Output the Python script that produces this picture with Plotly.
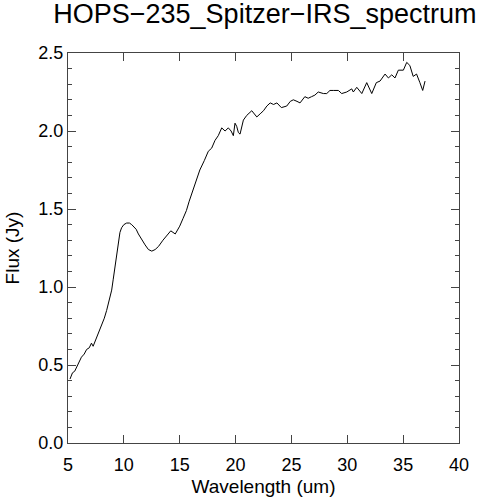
import plotly.graph_objects as go

# Spectrum points
wavelength = [
    5.18, 5.4, 5.6, 5.78, 6.0, 6.2, 6.45, 6.67, 6.9, 7.1, 7.25, 7.42, 7.6, 7.8,
    8.02, 8.25, 8.46, 8.7, 8.91, 9.05, 9.2, 9.35, 9.5, 9.65, 9.8, 10.0, 10.25,
    10.5, 10.7, 10.95, 11.1, 11.3, 11.6, 11.9, 12.2, 12.5, 12.8, 13.1, 13.5,
    13.84, 14.2, 14.6, 15.0, 15.3, 15.6, 15.85, 16.07, 16.4, 16.8, 17.2, 17.56,
    17.86, 18.16, 18.45, 18.76, 19.06, 19.35, 19.6, 19.8, 19.95, 20.1, 20.25,
    20.4, 20.7, 21.0, 21.45, 21.9, 22.2, 22.5, 22.8, 23.1, 23.4, 23.7, 24.1,
    24.58, 24.9, 25.17, 25.5, 25.77, 26.2, 26.5, 26.8, 27.1, 27.4, 27.86, 28.16,
    28.45, 28.75, 29.2, 29.5, 29.95, 30.4, 30.54, 30.85, 31.3, 31.74, 32.19,
    32.6, 32.93, 33.38, 33.68, 33.98, 34.27, 34.57, 35.02, 35.32, 35.6, 35.9,
    36.2, 36.5, 36.75, 36.96,
]
flux = [
    0.41, 0.45, 0.46, 0.49, 0.52, 0.55, 0.57, 0.60, 0.61, 0.64, 0.62, 0.65, 0.68,
    0.71, 0.75, 0.80, 0.85, 0.91, 0.98, 1.05, 1.13, 1.22, 1.30, 1.35, 1.38, 1.40,
    1.41, 1.41, 1.40, 1.38, 1.37, 1.34, 1.30, 1.27, 1.24, 1.23, 1.24, 1.26, 1.30,
    1.33, 1.36, 1.34, 1.39, 1.44, 1.49, 1.55, 1.60, 1.67, 1.75, 1.81, 1.87,
    1.89, 1.94, 1.97, 2.02, 2.00, 2.02, 2.00, 1.97, 2.05, 2.03, 1.99,
    1.98, 2.07, 2.10, 2.13, 2.09, 2.11, 2.13, 2.16, 2.18, 2.17, 2.18, 2.15,
    2.16, 2.19, 2.20, 2.19, 2.18, 2.22, 2.21, 2.22, 2.23, 2.25, 2.24, 2.24,
    2.26, 2.26, 2.26, 2.24, 2.25, 2.27, 2.25, 2.28, 2.24, 2.31, 2.24,
    2.31, 2.32, 2.365, 2.34, 2.36, 2.34, 2.39, 2.39, 2.44, 2.42, 2.35,
    2.365, 2.31, 2.26, 2.32,
]

x_ticks = [5, 10, 15, 20, 25, 30, 35, 40]
y_ticks = [0.0, 0.5, 1.0, 1.5, 2.0, 2.5]
y_labels = ["0.0", "0.5", "1.0", "1.5", "2.0", "2.5"]

fig = go.Figure()
fig.add_trace(go.Scatter(
    x=wavelength,
    y=flux,
    mode='lines',
    line=dict(color='black', width=1),
    showlegend=False
))

font_name = 'Liberation Sans, Arial, sans-serif'
tick_font = dict(family=font_name, size=18, color='black')
label_font = dict(family=font_name, size=19, color='black')

fig.update_layout(
    width=479,
    height=500,
    paper_bgcolor='white',
    plot_bgcolor='white',
    margin=dict(l=68, r=20, t=53, b=57),
    title=dict(
        text='HOPS\u2212235_Spitzer\u2212IRS_spectrum',
        x=0.553, xanchor='center',
        y=0.972, yanchor='middle',
        font=dict(family=font_name, size=27, color='black')
    ),
    xaxis=dict(
        range=[5, 40],
        tickmode='array',
        tickvals=x_ticks,
        ticktext=[str(v) for v in x_ticks],
        ticks='inside',
        ticklen=8,
        tickcolor='#444',
        ticklabelstandoff=5,
        showline=True,
        linecolor='#444',
        linewidth=1,
        mirror='ticks',
        showgrid=False,
        zeroline=False,
        automargin=False,
        tickfont=tick_font,
        title=dict(text='Wavelength (um)', font=label_font, standoff=6)
    ),
    yaxis=dict(
        range=[0, 2.5],
        tickmode='array',
        tickvals=y_ticks,
        ticktext=y_labels,
        ticks='inside',
        ticklen=8,
        tickcolor='#444',
        minor=dict(ticks='inside', ticklen=4, dtick=0.1, tickcolor='#444', showgrid=False),
        showline=True,
        linecolor='#444',
        linewidth=1,
        mirror='ticks',
        showgrid=False,
        zeroline=False,
        automargin=False,
        tickfont=tick_font,
        title=dict(text='Flux (Jy)', font=label_font, standoff=13)
    )
)

# drop the default page margin so the figure sits at the window corner
fig.write_html("out.html", config={'displayModeBar': False},
               post_script="document.body.style.margin='0';")
